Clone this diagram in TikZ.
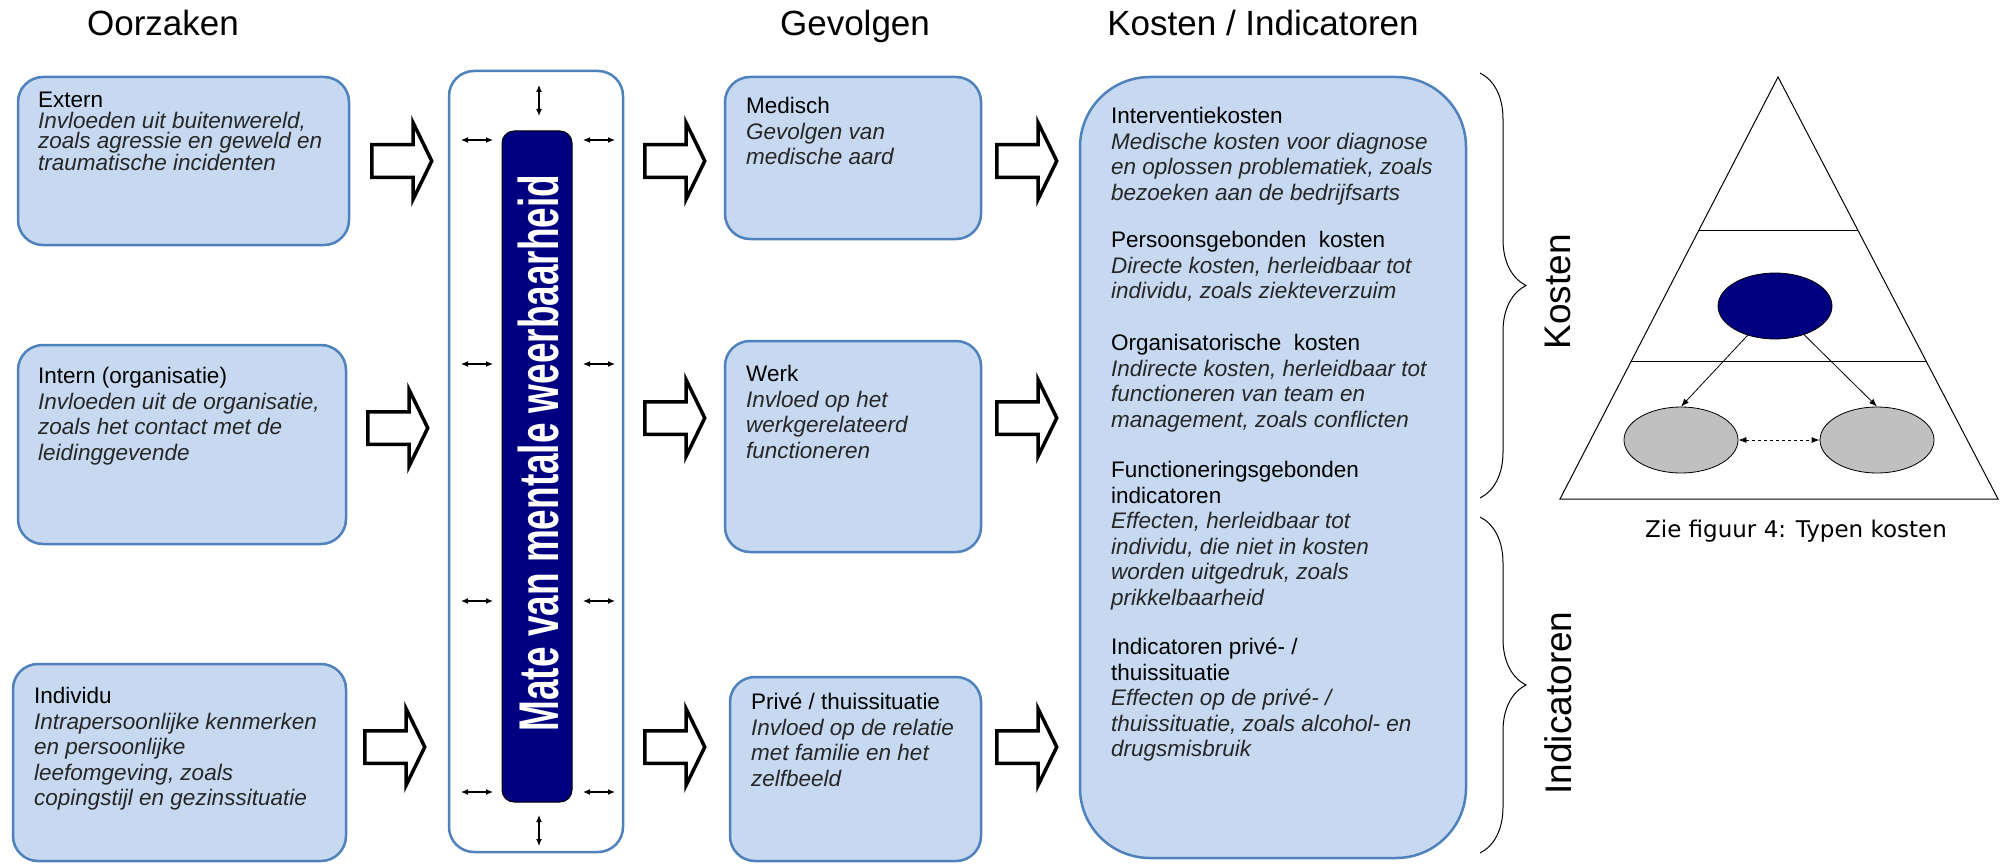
\documentclass[tikz,border=0pt]{standalone}
\usepackage{fontspec}
\setmainfont{Liberation Sans}
\newfontfamily\barfont[FakeStretch=0.66]{Liberation Sans}
\newfontfamily\capfont{DejaVu Sans}
\usetikzlibrary{shapes.arrows,shapes.geometric,arrows.meta,decorations.pathreplacing,calc}

\definecolor{boxfill}{RGB}{198,217,241}
\definecolor{boxline}{RGB}{79,129,189}
\definecolor{barblue}{RGB}{0,0,128}
\definecolor{ovalgray}{RGB}{192,192,192}
\definecolor{notegray}{RGB}{38,38,38}

\newcommand\hd[1]{{\upshape\color{black}#1}}

\tikzset{
  title/.style={anchor=base, inner sep=0pt, font=\fontsize{35}{35}\selectfont},
  box/.style={draw=boxline, fill=boxfill, line width=2.5pt, rounded corners=25pt, inner sep=0pt},
  note/.style={anchor=north west, align=left, inner sep=0pt, text=notegray,
    font=\itshape\fontsize{22.5}{25.5}\selectfont},
  hollow/.style={single arrow, draw, fill=white, line width=3.5pt, anchor=west,
    inner xsep=0pt, inner ysep=14.5pt, minimum height=60pt,
    single arrow head extend=22pt, single arrow tip angle=128},
  tiny/.style={{Latex[length=7pt,width=6pt]}-{Latex[length=7pt,width=6pt]}, line width=1.2pt},
  oval/.style={ellipse, draw, line width=0.8pt, minimum width=114pt, minimum height=66pt},
  thin/.style={-{Latex[length=8pt,width=6pt]}, line width=0.8pt},
  bracket/.style={decorate, decoration={brace, amplitude=46pt}, line width=1pt}
}

\begin{document}
\begin{tikzpicture}[x=1pt, y=-1pt]
\useasboundingbox (0,0) rectangle (2002,864);

% kopjes
\node[title] (oorzaken) at (163,36) {Oorzaken};
\node[title] (gevolgen) at (855,36) {Gevolgen};
\node[title] (kosten) at (1263,36) {Kosten / Indicatoren};

% oorzaken
\node[box, minimum width=331pt, minimum height=168pt] (extern) at (183.5,161) {};
\node[box, minimum width=328pt, minimum height=199pt] (intern) at (182,444.5) {};
\node[box, minimum width=333pt, minimum height=197pt] (individu) at (179.5,762.5) {};
\node[note, font=\itshape\fontsize{22.5}{20.5}\selectfont] (extern-txt) at (38,92)
  {\hd{Extern}\\Invloeden uit buitenwereld,\\zoals agressie en geweld en\\traumatische incidenten};
\node[note] (intern-txt) at (38,367)
  {\hd{Intern (organisatie)}\\Invloeden uit de organisatie,\\zoals het contact met de\\leidinggevende};
\node[note] (individu-txt) at (34,687)
  {\hd{Individu}\\Intrapersoonlijke kenmerken\\en persoonlijke\\leefomgeving, zoals\\copingstijl en gezinssituatie};

% weerbaarheid
\node[box, fill=white, minimum width=174pt, minimum height=781pt] (frame) at (536,461.5) {};
\node[draw, line width=1pt, fill=barblue, rounded corners=12pt, minimum width=70pt, minimum height=671pt] (mate) at (537,466.5) {};
\node[rotate=90, text=white, inner sep=0pt, font=\barfont\bfseries\fontsize{56}{56}\selectfont] (mate-txt) at (538,453) {Mate van mentale weerbaarheid};
\foreach \y in {140,364,601,792} {
  \draw[tiny] (461,\y) -- (493,\y);
  \draw[tiny] (583,\y) -- (615,\y);
}
\draw[tiny] (539,85) -- (539,116);
\draw[tiny] (539,815) -- (539,846);

% gevolgen
\node[box, minimum width=256pt, minimum height=162pt] (medisch) at (853,158) {};
\node[box, minimum width=256pt, minimum height=211pt] (werk) at (853,446.5) {};
\node[box, minimum width=251pt, minimum height=184pt] (prive) at (855.5,769) {};
\node[note] (medisch-txt) at (746,97) {\hd{Medisch}\\Gevolgen van\\medische aard};
\node[note] (werk-txt) at (746,365) {\hd{Werk}\\Invloed op het\\werkgerelateerd\\functioneren};
\node[note] (prive-txt) at (751,693) {\hd{Privé / thuissituatie}\\Invloed op de relatie\\met familie en het\\zelfbeeld};

% kosten en indicatoren
\node[box, rounded corners=70pt, minimum width=386pt, minimum height=781pt] (kostenbox) at (1273,467.5) {};
\node[note] (k1) at (1111,107) {\hd{Interventiekosten}\\Medische kosten voor diagnose\\en oplossen problematiek, zoals\\bezoeken aan de bedrijfsarts};
\node[note] (k2) at (1111,231) {\hd{Persoonsgebonden\ \ kosten}\\Directe kosten, herleidbaar tot\\individu, zoals ziekteverzuim};
\node[note] (k3) at (1111,334) {\hd{Organisatorische\ \ kosten}\\Indirecte kosten, herleidbaar tot\\functioneren van team en\\management, zoals conflicten};
\node[note] (k4) at (1111,461) {\hd{Functioneringsgebonden}\\\hd{indicatoren}\\Effecten, herleidbaar tot\\individu, die niet in kosten\\worden uitgedruk, zoals\\prikkelbaarheid};
\node[note] (k5) at (1111,638) {\hd{Indicatoren privé- /}\\\hd{thuissituatie}\\Effecten op de privé- /\\thuissituatie, zoals alcohol- en\\drugsmisbruik};

% pijlen
\foreach \x/\y/\n in {370/161/a1, 366/428/a2, 363/747/a3,
                      643/161/b1, 643/418/b2, 643/747/b3,
                      995/161/c1, 995/418/c2, 995/747/c3}
  \node[hollow] (\n) at (\x,\y) {};

% accolades
\draw[bracket] (1480,73) -- (1480,498);
\draw[bracket] (1480,517) -- (1480,853);
\node[rotate=90, inner sep=0pt, font=\fontsize{37}{37}\selectfont] (kosten-lbl) at (1558,292) {Kosten};
\node[rotate=90, inner sep=0pt, font=\fontsize{37}{37}\selectfont] (ind-lbl) at (1558,703) {Indicatoren};

% piramide
\coordinate (apex) at (1778,77);
\coordinate (bl) at (1560,499);
\coordinate (br) at (1998,499);
\draw[line width=1pt] (apex) -- (br) -- (bl) -- cycle;
\draw[line width=1pt] ($(apex)!0.3626!(bl)$) -- ($(apex)!0.3626!(br)$);
\draw[line width=1pt] ($(apex)!0.673!(bl)$) -- ($(apex)!0.673!(br)$);
\node[oval, fill=barblue] (top) at (1775,306) {};
\node[oval, fill=ovalgray] (left) at (1681,440) {};
\node[oval, fill=ovalgray] (right) at (1877,440) {};
\draw[thin] (top) -- (left.north);
\draw[thin] (top) -- (right.north);
\draw[{Latex[length=8pt,width=6pt]}-{Latex[length=8pt,width=6pt]}, line width=0.8pt, dashed] (left) -- (right);
\node[anchor=base, inner sep=0pt, font=\capfont\fontsize{23}{23}\selectfont] (caption) at (1796,537) {Zie figuur 4: Typen kosten};
\end{tikzpicture}
\end{document}
